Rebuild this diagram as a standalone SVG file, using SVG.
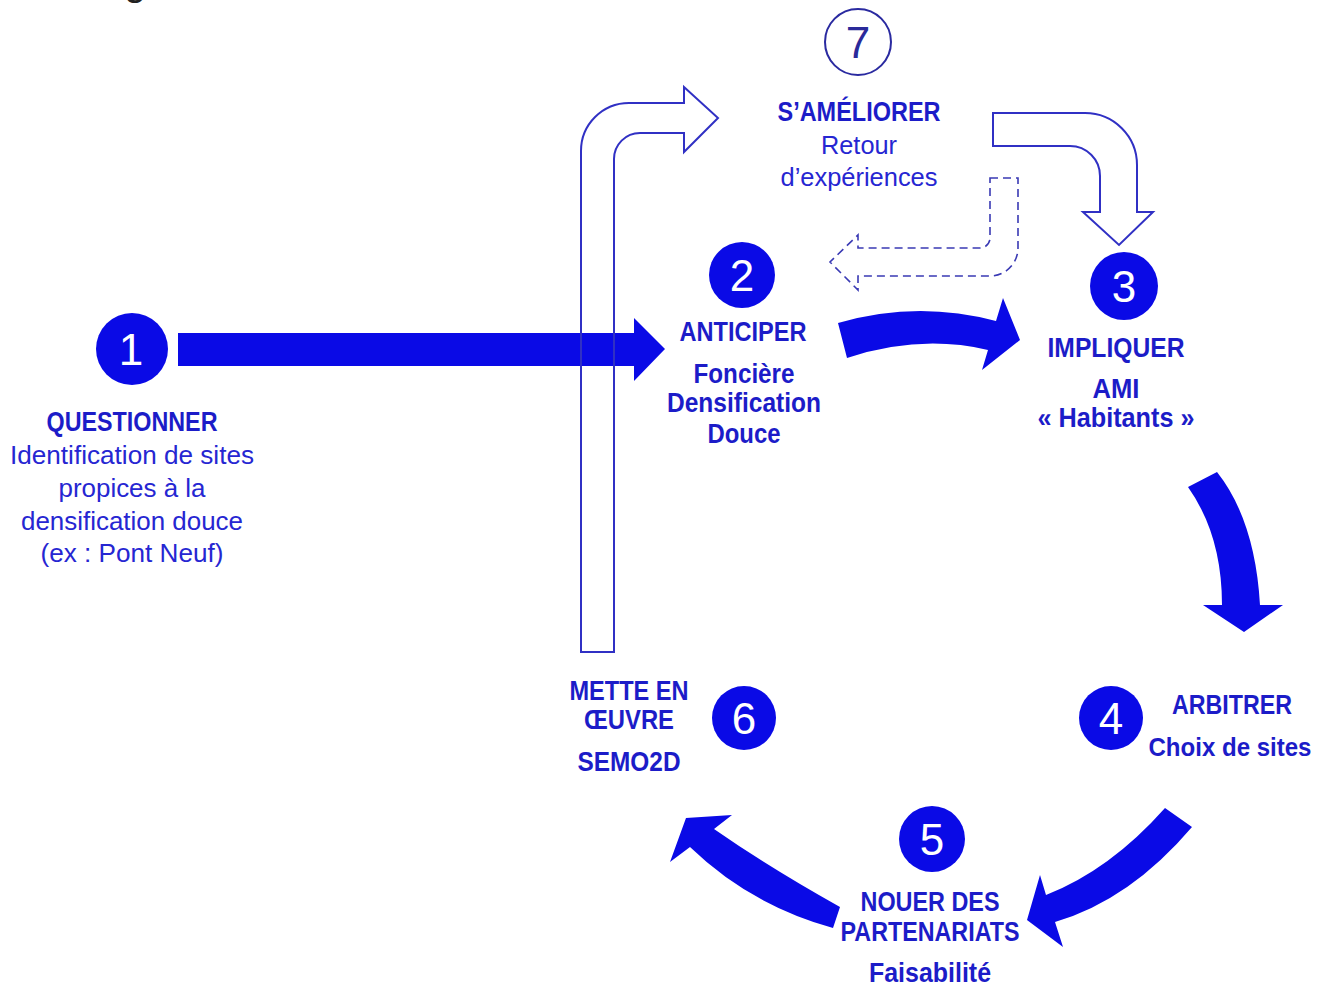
<svg xmlns="http://www.w3.org/2000/svg" width="1327" height="987" viewBox="0 0 1327 987">
<style>
.bg{fill:#ffffff}
.disc{fill:#0a0ae6}
.num{font-family:"Liberation Sans",Arial,sans-serif;font-size:44px;fill:#ffffff;text-anchor:middle}
.t{font-family:"Liberation Sans",Arial,sans-serif;font-size:27px;font-weight:bold;fill:#1c1cc8;text-anchor:middle}
.r{font-family:"Liberation Sans",Arial,sans-serif;font-size:26px;fill:#2626d2;text-anchor:middle}
.solid{fill:#0a0ae6;stroke:none}
.outline{fill:none;stroke:#3030c4;stroke-width:2;stroke-linejoin:miter}
.dash{fill:none;stroke:#3a3ab4;stroke-width:1.6;stroke-dasharray:8 5}
</style>
<rect class="bg" x="0" y="0" width="1327" height="987"/>
<text x="124" y="-5" font-family="Liberation Sans,Arial,sans-serif" font-size="40" fill="#222222">g</text>

<g id="connectors">
  <path id="a1-2" class="solid" d="M178 333 L634 333 L634 318 L665 349 L634 381 L634 366 L178 366 Z"/>
  <path id="a2-3" class="solid" d="M838 323 Q917 300 996 321 L1003 298 L1020 340 L982 370 L988 350 Q920 334 847 358 Z"/>
  <path id="a3-4" class="solid" d="M1188 487 Q1222 535 1222 605 L1203 605 L1244 632 L1283 605 L1260 605 Q1255 520 1217 472 Z"/>
  <path id="a4-5" class="solid" d="M1165 808 Q1110 870 1046 895 L1040 875 L1027 920 L1063 947 L1055 922 Q1130 900 1192 827 Z"/>
  <path id="a5-6" class="solid" d="M840 907 Q770 868 714 829 L732 815 L686 818 L670 862 L690 847 Q750 905 833 928 Z"/>
  <path id="a6-7" class="outline" d="M581 652 L581 151 A48 48 0 0 1 629 103 L684 103 L684 87 L718 118 L684 152 L684 133 L640 133 A26 26 0 0 0 614 159 L614 652 Z"/>
  <path id="a7-3" class="outline" d="M993 113 L1085 113 A52 52 0 0 1 1137 165 L1137 212 L1153 212 L1119 245 L1083 212 L1100 212 L1100 176 A30 30 0 0 0 1070 146 L993 146 Z"/>
  <path id="a7-2" class="dash" d="M990 178 L1018 178 L1018 248 A28 28 0 0 1 990 276 L858 276 L858 290 L830 262 L858 235 L858 248 L980 248 A10 10 0 0 0 990 238 Z"/>
</g>

<g id="node1">
  <ellipse class="disc" cx="132" cy="349" rx="36" ry="36"/>
  <text class="num" x="131" y="365">1</text>
  <text class="t" x="132" y="431" textLength="171" lengthAdjust="spacingAndGlyphs">QUESTIONNER</text>
  <text class="r" x="132" y="464" textLength="244" lengthAdjust="spacingAndGlyphs">Identification de sites</text>
  <text class="r" x="132" y="497" textLength="147" lengthAdjust="spacingAndGlyphs">propices à la</text>
  <text class="r" x="132" y="530" textLength="222" lengthAdjust="spacingAndGlyphs">densification douce</text>
  <text class="r" x="132" y="562" textLength="183" lengthAdjust="spacingAndGlyphs">(ex : Pont Neuf)</text>
</g>

<g id="node2">
  <circle class="disc" cx="742" cy="275" r="33"/>
  <text class="num" x="742" y="291">2</text>
  <text class="t" x="743" y="341" textLength="127" lengthAdjust="spacingAndGlyphs">ANTICIPER</text>
  <text class="t" x="744" y="383" textLength="101" lengthAdjust="spacingAndGlyphs">Foncière</text>
  <text class="t" x="744" y="412" textLength="154" lengthAdjust="spacingAndGlyphs">Densification</text>
  <text class="t" x="744" y="443" textLength="73" lengthAdjust="spacingAndGlyphs">Douce</text>
</g>

<g id="node3">
  <circle class="disc" cx="1124" cy="286" r="34"/>
  <text class="num" x="1124" y="302">3</text>
  <text class="t" x="1116" y="357" textLength="137" lengthAdjust="spacingAndGlyphs">IMPLIQUER</text>
  <text class="t" x="1116" y="398" textLength="47" lengthAdjust="spacingAndGlyphs">AMI</text>
  <text class="t" x="1116" y="427" textLength="157" lengthAdjust="spacingAndGlyphs">« Habitants »</text>
</g>

<g id="node4">
  <circle class="disc" cx="1111" cy="718" r="32"/>
  <text class="num" x="1111" y="734">4</text>
  <text class="t" x="1232" y="714" textLength="120" lengthAdjust="spacingAndGlyphs">ARBITRER</text>
  <text class="t" x="1230" y="756" font-size="25" textLength="163" lengthAdjust="spacingAndGlyphs" style="font-size:25px">Choix de sites</text>
</g>

<g id="node5">
  <circle class="disc" cx="932" cy="839" r="33"/>
  <text class="num" x="932" y="855">5</text>
  <text class="t" x="930" y="911" textLength="139" lengthAdjust="spacingAndGlyphs">NOUER DES</text>
  <text class="t" x="930" y="941" textLength="179" lengthAdjust="spacingAndGlyphs">PARTENARIATS</text>
  <text class="t" x="930" y="982" textLength="122" lengthAdjust="spacingAndGlyphs">Faisabilité</text>
</g>

<g id="node6">
  <circle class="disc" cx="744" cy="718" r="32"/>
  <text class="num" x="744" y="734">6</text>
  <text class="t" x="629" y="700" textLength="119" lengthAdjust="spacingAndGlyphs">METTE EN</text>
  <text class="t" x="629" y="729" textLength="90" lengthAdjust="spacingAndGlyphs">ŒUVRE</text>
  <text class="t" x="629" y="771" textLength="103" lengthAdjust="spacingAndGlyphs">SEMO2D</text>
</g>

<g id="node7">
  <circle cx="858" cy="42" r="33" fill="none" stroke="#2a2aa0" stroke-width="2"/>
  <text x="858" y="58" font-family="Liberation Sans,Arial,sans-serif" font-size="44" fill="#2a2a9a" text-anchor="middle">7</text>
  <text class="t" x="859" y="121" textLength="163" lengthAdjust="spacingAndGlyphs">S’AMÉLIORER</text>
  <text class="r" x="859" y="154" textLength="76" lengthAdjust="spacingAndGlyphs">Retour</text>
  <text class="r" x="859" y="186" textLength="157" lengthAdjust="spacingAndGlyphs">d’expériences</text>
</g>
</svg>
